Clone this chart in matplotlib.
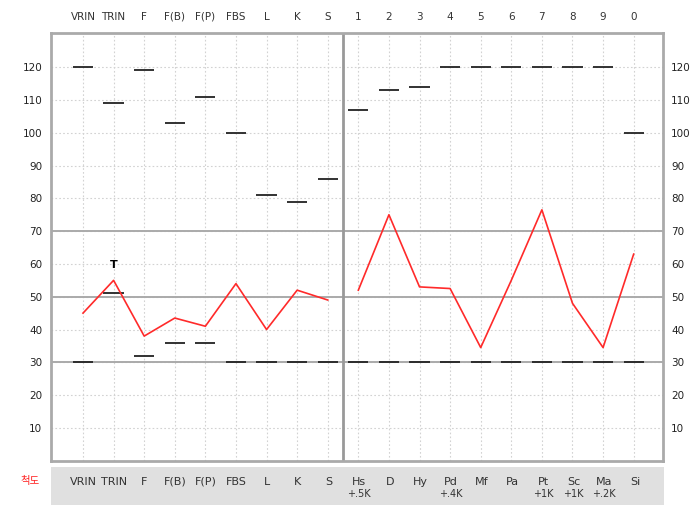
import matplotlib
matplotlib.use("Agg")
import matplotlib.pyplot as plt
import numpy as np

plt.rcParams['font.family'] = ['DejaVu Sans', 'Noto Sans CJK KR']

# scale codes (top row) and names (bottom box)
top_labels = ['VRIN', 'TRIN', 'F', 'F(B)', 'F(P)', 'FBS', 'L', 'K', 'S',
              '1', '2', '3', '4', '5', '6', '7', '8', '9', '0']
bottom_labels = ['VRIN', 'TRIN', 'F', 'F(B)', 'F(P)', 'FBS', 'L', 'K', 'S',
                 'Hs', 'D', 'Hy', 'Pd', 'Mf', 'Pa', 'Pt', 'Sc', 'Ma', 'Si']
k_corrections = ['', '', '', '', '', '', '', '', '',
                 '+.5K', '', '', '+.4K', '', '', '+1K', '+1K', '+.2K', '']

# T scores
validity_t = [45, 55, 38, 43.5, 41, 54, 40, 52, 49]
clinical_t = [52, 75, 53, 52.5, 34.5, 55, 76.5, 48, 34.5, 63]

# upper / lower limit marks
upper_marks = [120, 109, 119, 103, 111, 100, 81, 79, 86,
               107, 113, 114, 120, 120, 120, 120, 120, 120, 100]
lower_marks = [30, 51, 32, 36, 36, 30, 30, 30, 30,
               30, 30, 30, 30, 30, 30, 30, 30, 30, 30]

n = len(top_labels)
xs = np.arange(n)
n_val = len(validity_t)

fig = plt.figure(figsize=(6.92, 5.05), dpi=100)
ax = fig.add_axes([0.0733, 0.0877, 0.8844, 0.8475])
ax.set_xlim(-1.055, 18.95)
ax.set_ylim(0, 130.5)

# grid
ax.set_xticks(xs)
ax.set_xticklabels(top_labels, fontsize=7.5, color='#333333')
ax.tick_params(axis='x', top=True, labeltop=True, bottom=False, labelbottom=False,
               length=0, pad=8)
ax.set_yticks(np.arange(10, 121, 10))
ax.tick_params(axis='y', left=False, right=False, labelleft=True, labelright=True,
               length=0, labelsize=7.5, labelcolor='#222222', pad=6)
ax.grid(True, color='#d2d2d2', linestyle=(0, (1.5, 2)), linewidth=0.8)
ax.set_axisbelow(True)
for y in (30, 50, 70):
    ax.axhline(y, color='#aaaaaa', linewidth=1.4, zorder=1)
ax.axvline(8.5, color='#999999', linewidth=2, zorder=1)
for s in ax.spines.values():
    s.set_color('#aaaaaa')
    s.set_linewidth(2)

# limit marks
ax.hlines(upper_marks, xs - 0.33, xs + 0.33, color='#222222', linewidth=1.3, zorder=3)
ax.hlines(lower_marks, xs - 0.33, xs + 0.33, color='#222222', linewidth=1.3, zorder=3)

# profile lines
ax.plot(xs[:n_val], validity_t, color='#ff2a2a', linewidth=1.2, zorder=4)
ax.plot(xs[n_val:], clinical_t, color='#ff2a2a', linewidth=1.2, zorder=4)
ax.text(1, 58, 'T', ha='center', va='bottom', fontsize=8, fontweight='bold')

# bottom label box
bx = fig.add_axes([0.0733, 0.0, 0.8863, 0.0747], facecolor='#e0e0e0')
bx.set_xlim(-1.055, 18.95)
bx.set_ylim(0, 1)
bx.set_xticks([])
bx.set_yticks([])
for s in bx.spines.values():
    s.set_visible(False)
for i in range(n):
    bx.text(xs[i], 0.62, bottom_labels[i], ha='center', va='center',
            fontsize=8, color='#333333')
    if k_corrections[i]:
        bx.text(xs[i], 0.3, k_corrections[i], ha='center', va='center',
                fontsize=7, color='#333333')

fig.text(0.044, 0.047, '척도', ha='center', va='center', color='#ff2020',
         fontsize=7.5, family=['Noto Sans CJK KR', 'DejaVu Sans'])

fig.savefig('out.png', dpi=100)
